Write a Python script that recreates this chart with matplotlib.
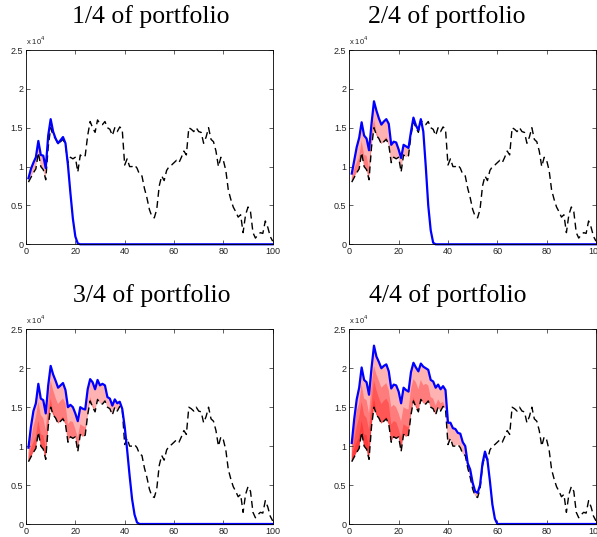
import matplotlib
matplotlib.use("Agg")
import matplotlib.pyplot as plt
import numpy as np

# ---------------- data (values in units of 10^4) ----------------
X = list(range(1, 101))

BENCH = [0.80, 0.86, 0.92, 0.97, 1.18, 1.00, 0.96, 0.83, 1.25, 1.50,
         1.40, 1.36, 1.29, 1.32, 1.35, 1.28, 1.05, 1.12, 1.10, 1.12,
         0.93, 1.15, 1.12, 1.14, 1.40, 1.58, 1.50, 1.44, 1.60, 1.55,
         1.54, 1.58, 1.50, 1.48, 1.40, 1.50, 1.45, 1.51, 1.48, 1.02,
         1.10, 1.00, 1.00, 1.02, 0.98, 0.90, 0.88, 0.72, 0.60, 0.45,
         0.36, 0.34, 0.45, 0.75, 0.88, 0.82, 0.95, 1.00, 1.02, 1.05,
         1.08, 1.05, 1.12, 1.20, 1.15, 1.50, 1.48, 1.45, 1.50, 1.45,
         1.44, 1.30, 1.38, 1.50, 1.35, 1.32, 1.20, 1.00, 1.12, 1.08,
         0.95, 0.70, 0.58, 0.48, 0.42, 0.35, 0.38, 0.15, 0.38, 0.48,
         0.42, 0.15, 0.08, 0.12, 0.15, 0.14, 0.30, 0.22, 0.10, 0.04]

TOP1 = [0.85, 0.97, 1.05, 1.12, 1.33, 1.15, 1.14, 0.98, 1.40, 1.61,
        1.45, 1.36, 1.30, 1.34, 1.38, 1.30, 1.02, 0.66, 0.33, 0.10,
        0.01] + [0.0] * 79

TOP2 = [0.91, 1.08, 1.25, 1.37, 1.57, 1.40, 1.36, 1.21, 1.55, 1.84,
        1.72, 1.62, 1.54, 1.58, 1.61, 1.55, 1.28, 1.32, 1.31, 1.22,
        1.11, 1.28, 1.26, 1.24, 1.45, 1.63, 1.53, 1.47, 1.61, 1.45,
        1.00, 0.50, 0.18, 0.02] + [0.0] * 66

TOP3 = [0.98, 1.25, 1.45, 1.55, 1.80, 1.61, 1.59, 1.42, 1.78, 2.03,
        1.92, 1.84, 1.75, 1.78, 1.81, 1.72, 1.50, 1.53, 1.50, 1.42,
        1.32, 1.50, 1.48, 1.47, 1.73, 1.86, 1.82, 1.73, 1.85, 1.78,
        1.80, 1.78, 1.63, 1.61, 1.52, 1.60, 1.55, 1.57, 1.48, 1.25,
        0.95, 0.62, 0.32, 0.12, 0.02] + [0.0] * 55

TOP4 = [1.04, 1.35, 1.60, 1.75, 2.01, 1.85, 1.82, 1.66, 2.00, 2.29,
        2.15, 2.08, 2.00, 2.03, 2.05, 1.96, 1.74, 1.79, 1.78, 1.70,
        1.55, 1.75, 1.72, 1.70, 1.95, 2.07, 2.01, 1.96, 2.06, 2.02,
        2.00, 1.98, 1.85, 1.83, 1.75, 1.79, 1.73, 1.77, 1.72, 1.30,
        1.30, 1.23, 1.22, 1.17, 1.16, 1.05, 1.00, 0.78, 0.70, 0.53,
        0.42, 0.40, 0.50, 0.78, 0.93, 0.82, 0.55, 0.25, 0.07, 0.0] + [0.0] * 40

TOPS = [TOP1, TOP2, TOP3, TOP4]
LAYER_LAST_X = [16, 29, 39, 56]

TITLES = ["1/4 of portfolio", "2/4 of portfolio", "3/4 of portfolio", "4/4 of portfolio"]
XTICKS = [0, 20, 40, 60, 80, 100]
YTICKS = [0, 0.5, 1, 1.5, 2, 2.5]
YTICKLABELS = ["0", "0.5", "1", "1.5", "2", "2.5"]

# ---------------- figure ----------------
W, H = 597, 537
fig = plt.figure(figsize=(W / 100, H / 100), dpi=100)

# axes boxes in pixels: (left, top, right, bottom)
boxes = [(26, 50, 272.7, 244.3), (349.3, 50, 596, 244.3),
         (26, 329.3, 272.7, 524.0), (349.3, 329.3, 596, 524.0)]
title_pos = [(151, 17), (447, 17), (152, 296), (448, 296)]

x = np.array(X)
b = np.array(BENCH)

for k in range(4):
    l, t, r, bt = boxes[k]
    ax = fig.add_axes([l / W, 1 - bt / H, (r - l) / W, (bt - t) / H])
    # stacked semi-transparent layers
    for j in range(k + 1):
        top = np.array(TOPS[j])
        mask = (top >= b) & (x <= LAYER_LAST_X[j])
        ax.fill_between(x, b, top, where=mask, facecolor=(1, 0, 0),
                        alpha=0.3, linewidth=0, interpolate=False)
    ax.plot(x, b, color="black", linewidth=1.0, dashes=(5, 3))
    ax.plot(x, np.array(TOPS[k]), color=(0, 0, 1), linewidth=1.6,
            clip_on=False, solid_joinstyle="round")
    ax.set_xlim(0, 100)
    ax.set_ylim(0, 2.5)
    ax.set_xticks(XTICKS)
    ax.set_yticks(YTICKS)
    ax.set_yticklabels(YTICKLABELS)
    ax.tick_params(direction="in", length=3, width=0.5, labelsize=6.5,
                   top=True, right=True, pad=2, colors="#222222")
    for lab in ax.get_xticklabels() + ax.get_yticklabels():
        lab.set_family("Liberation Sans")
    for s in ax.spines.values():
        s.set_linewidth(0.6)
    ax.text(0.0, 1.015, r"x 10$^{4}$", transform=ax.transAxes,
            fontsize=5.5, ha="left", va="bottom", color="#222222",
            family="Liberation Sans")
    tx, ty = title_pos[k]
    fig.text(tx / W, 1 - ty / H, TITLES[k], ha="center", va="center",
             fontsize=18.5, family="Liberation Serif")

fig.savefig("out.png", dpi=100)
